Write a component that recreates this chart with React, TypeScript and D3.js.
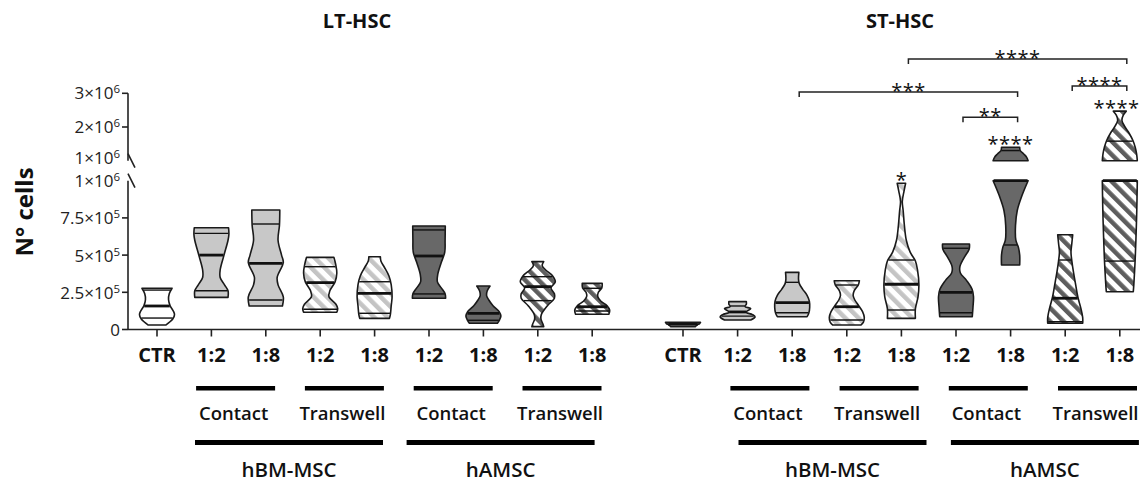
import * as d3 from 'd3'

// categories (same order in both panels)
const groupKeys = ['ctr', 'bmC2', 'bmC8', 'bmT2', 'bmT8', 'amC2', 'amC8', 'amT2', 'amT8']
const groupLabels = ['CTR', '1:2', '1:8', '1:2', '1:8', '1:2', '1:8', '1:2', '1:8']
const groupFill = ['white', 'light', 'light', 'lightHatch', 'lightHatch', 'dark', 'dark', 'darkHatch', 'darkHatch']

const subGroups = [
  { label: 'Contact', from: 1, to: 2 },
  { label: 'Transwell', from: 3, to: 4 },
  { label: 'Contact', from: 5, to: 6 },
  { label: 'Transwell', from: 7, to: 8 },
]
const mainGroups = [
  { label: 'hBM-MSC', from: 1, to: 4 },
  { label: 'hAMSC', from: 5, to: 8 },
]

const yTicksLower = [0, 2.5e5, 5e5, 7.5e5, 1e6]
const yTicksUpper = [1e6, 2e6, 3e6]

// violin outlines: [value, relative width], bottom to top
const ltProfiles = [
  [[0.3e5, 0.5], [0.7e5, 0.9], [1.0e5, 1.0], [1.2e5, 0.95], [1.6e5, 0.75], [2.0e5, 0.66], [2.4e5, 0.7], [2.77e5, 0.86]],
  [[2.16e5, 0.95], [2.6e5, 0.95], [3.0e5, 0.75], [3.5e5, 0.5], [4.0e5, 0.5], [5.0e5, 0.72], [6.0e5, 0.95], [6.4e5, 1.0], [6.84e5, 0.98]],
  [[1.58e5, 0.95], [2.2e5, 1.0], [3.0e5, 0.7], [3.5e5, 0.65], [4.5e5, 1.0], [5.0e5, 0.9], [6.0e5, 0.7], [7.0e5, 0.78], [8.03e5, 0.8]],
  [[1.16e5, 0.95], [1.4e5, 1.0], [1.7e5, 0.9], [2.2e5, 0.5], [2.6e5, 0.55], [3.2e5, 0.85], [3.8e5, 0.95], [4.4e5, 0.88], [4.85e5, 0.78]],
  [[0.75e5, 0.85], [1.0e5, 0.9], [1.6e5, 0.95], [2.2e5, 1.0], [3.0e5, 0.95], [3.6e5, 0.82], [4.2e5, 0.55], [4.6e5, 0.36], [4.89e5, 0.33]],
  [[2.1e5, 0.95], [2.4e5, 0.92], [2.8e5, 0.7], [3.2e5, 0.48], [3.7e5, 0.5], [4.5e5, 0.7], [5.2e5, 0.9], [6.0e5, 0.92], [6.96e5, 0.93]],
  [[0.42e5, 0.8], [0.6e5, 0.9], [0.9e5, 1.0], [1.2e5, 0.9], [1.6e5, 0.55], [2.0e5, 0.3], [2.3e5, 0.18], [2.6e5, 0.22], [2.92e5, 0.38]],
  [[0.19e5, 0.34], [0.4e5, 0.28], [0.7e5, 0.18], [1.0e5, 0.2], [1.6e5, 0.55], [2.1e5, 0.95], [2.4e5, 0.95], [2.8e5, 0.75], [3.2e5, 1.0], [3.6e5, 0.85], [4.0e5, 0.45], [4.3e5, 0.25], [4.56e5, 0.34]],
  [[1.02e5, 0.95], [1.3e5, 1.0], [1.6e5, 0.85], [1.9e5, 0.5], [2.2e5, 0.32], [2.5e5, 0.35], [2.8e5, 0.55], [3.1e5, 0.57]],
]
// [Q1, median, Q3]
const ltQuartiles = [
  [0.77e5, 1.58e5, 2.65e5],
  [2.6e5, 5.0e5, 6.46e5],
  [1.98e5, 4.45e5, 7.09e5],
  [1.36e5, 3.15e5, 4.22e5],
  [1.09e5, 2.43e5, 3.21e5],
  [2.39e5, 4.94e5, 6.69e5],
  [0.62e5, 1.08e5, null],
  [1.94e5, 2.88e5, 3.55e5],
  [1.24e5, 1.53e5, 2.77e5],
]

const stProfiles = [
  [[0.19e5, 0.7], [0.3e5, 0.8], [0.4e5, 0.95], [0.48e5, 1.0]],
  [[0.64e5, 0.75], [0.85e5, 1.0], [1.0e5, 0.85], [1.15e5, 0.5], [1.25e5, 0.55], [1.4e5, 0.75], [1.55e5, 0.42], [1.7e5, 0.5], [1.87e5, 0.5]],
  [[0.86e5, 0.85], [1.1e5, 0.95], [1.5e5, 1.0], [1.9e5, 0.98], [2.3e5, 0.85], [2.7e5, 0.6], [3.1e5, 0.4], [3.4e5, 0.36], [3.84e5, 0.38]],
  [[0.3e5, 0.8], [0.5e5, 0.95], [0.8e5, 1.0], [1.2e5, 0.9], [1.6e5, 0.68], [2.0e5, 0.45], [2.3e5, 0.36], [2.6e5, 0.42], [3.0e5, 0.66], [3.28e5, 0.72]],
  [[0.75e5, 0.8], [1.4e5, 0.8], [2.2e5, 0.95], [3.0e5, 1.0], [4.0e5, 0.92], [4.6e5, 0.8], [5.2e5, 0.5], [6.0e5, 0.28], [7.0e5, 0.17], [8.0e5, 0.1], [8.6e5, 0.05], [9.3e5, 0.15], [9.83e5, 0.24]],
  [[0.86e5, 0.93], [1.5e5, 0.97], [2.2e5, 1.0], [2.7e5, 0.92], [3.3e5, 0.6], [3.8e5, 0.25], [4.2e5, 0.22], [4.8e5, 0.45], [5.4e5, 0.75], [5.75e5, 0.77]],
  [[4.33e5, 0.52], [5.0e5, 0.52], [5.5e5, 0.45], [6.0e5, 0.3], [7.0e5, 0.28], [8.0e5, 0.38], [9.0e5, 0.65], [1.0e6, 1.0], [1.1e6, 0.92], [1.2e6, 0.75], [1.3e6, 0.55], [1.4e6, 0.52]],
  [[0.42e5, 1.0], [0.8e5, 1.0], [1.4e5, 0.9], [2.2e5, 0.72], [3.0e5, 0.6], [3.8e5, 0.48], [4.6e5, 0.38], [5.2e5, 0.33], [5.8e5, 0.38], [6.37e5, 0.43]],
  [[2.54e5, 0.77], [3.0e5, 0.8], [4.5e5, 0.87], [6.0e5, 0.92], [8.0e5, 0.97], [1.0e6, 1.0], [1.2e6, 0.96], [1.4e6, 0.88], [1.6e6, 0.75], [1.8e6, 0.55], [2.0e6, 0.3], [2.2e6, 0.12], [2.35e6, 0.2], [2.47e6, 0.37]],
]
const stQuartiles = [
  [null, 0.35e5, null],
  [0.9e5, 1.18e5, 1.58e5],
  [1.13e5, 1.8e5, 3.17e5],
  [0.64e5, 1.53e5, 2.99e5],
  [1.31e5, 3.04e5, 4.67e5],
  [1.13e5, 2.5e5, 5.46e5],
  [5.68e5, 1.0e6, 1.3e6],
  [0.52e5, 2.1e5, 4.67e5],
  [4.6e5, 1.0e6, 1.58e6],
]

// significance: [from, to, label, level]
const stBrackets: [number, number, string, number][] = [
  [4, 8, '****', 4.02e6],
  [7, 8, '****', 3.22e6],
  [2, 6, '***', 3.04e6],
  [5, 6, '**', 2.29e6],
]
const stStars: [number, string][] = [
  [4, '*'],
  [6, '****'],
  [8, '****'],
]

const FONT = "'Open Sans', 'DejaVu Sans', sans-serif"
const AXIS_X = 128
const W = 1140
const yLow = d3.scaleLinear().domain([0, 1e6]).range([329.5, 180.7])
const yUp = d3.scaleLinear().domain([1e6, 3e6]).range([160.7, 93.3])
const yOf = (v: number) => (v <= 1e6 ? yLow(v) : yUp(v))
const halfW = d3.scaleLinear().domain([0, 1]).range([0, 17.5])

const fillFor: Record<string, string> = {
  white: '#ffffff',
  light: '#c8c8c8',
  dark: '#686868',
  lightHatch: 'url(#hatchLight)',
  darkHatch: 'url(#hatchDark)',
}

const panels = [
  { title: 'LT-HSC', titleX: 357, x: d3.scalePoint().domain(groupKeys).range([157, 592.2]), profiles: ltProfiles, quartiles: ltQuartiles, subShift: -3, mainShift: [-4, -10] },
  { title: 'ST-HSC', titleX: 900, x: d3.scalePoint().domain(groupKeys).range([683, 1119.8]), profiles: stProfiles, quartiles: stQuartiles, subShift: 5, mainShift: [13, 7] },
]

function Violin({ cx, profile, quart, fill }: any) {
  const segments = [
    { lo: 0, hi: 1e6, y: yLow },
    { lo: 1e6, hi: 3e6, y: yUp },
  ]
  const widthAt = d3.scaleLinear().domain(profile.map((p: number[]) => p[0])).range(profile.map((p: number[]) => p[1])).clamp(true)
  return (
    <g>
      {segments.map((s, i) => {
        const pts = profile.filter((p: number[]) => p[0] >= s.lo && p[0] <= s.hi)
        if (pts.length < 2) return null
        const area = d3
          .area<number[]>()
          .y((p) => s.y(p[0]))
          .x0((p) => cx - halfW(p[1]))
          .x1((p) => cx + halfW(p[1]))
          .curve(d3.curveCatmullRom)
        return <path key={i} d={area(pts) || ''} fill={fillFor[fill]} stroke="#1a1a1a" strokeWidth={1.6} strokeLinejoin="round" />
      })}
      {quart.map((q: number | null, i: number) => {
        if (q == null) return null
        const w = halfW(widthAt(q)) - 0.5
        const y = yOf(q)
        return <line key={'q' + i} x1={cx - w} x2={cx + w} y1={y} y2={y} stroke="#111" strokeWidth={i === 1 ? 2.8 : 1.4} />
      })}
    </g>
  )
}

function Sci({ v }: { v: number }) {
  if (v === 0) return <tspan>0</tspan>
  const exp = Math.floor(Math.log10(v))
  const mant = +(v / Math.pow(10, exp)).toFixed(2)
  return (
    <>
      <tspan>{`${mant}×10`}</tspan>
      <tspan dy={-6} fontSize={11.5}>{exp}</tspan>
    </>
  )
}

export default function App() {
  const baseY = yLow(0)
  return (
    <svg width={W} height={483} style={{ position: 'absolute', left: 0, top: 0, background: '#fff' }} fontFamily={FONT}>
      <defs>
        <pattern id="hatchLight" patternUnits="userSpaceOnUse" width={9.5} height={9.5} patternTransform="rotate(-45)">
          <rect width={9.5} height={9.5} fill="#fff" />
          <rect width={4.5} height={9.5} fill="#c4c4c4" />
        </pattern>
        <pattern id="hatchDark" patternUnits="userSpaceOnUse" width={9.5} height={9.5} patternTransform="rotate(-45)">
          <rect width={9.5} height={9.5} fill="#fff" />
          <rect width={4.5} height={9.5} fill="#5e5e5e" />
        </pattern>
      </defs>

      {/* y axis with break */}
      <g stroke="#222" strokeWidth={1.6}>
        <line x1={AXIS_X} x2={AXIS_X} y1={yUp(3e6)} y2={yUp(1e6)} />
        <line x1={AXIS_X} x2={AXIS_X} y1={yLow(1e6)} y2={yLow(0)} />
        <line x1={AXIS_X} x2={AXIS_X + 7} y1={yUp(1e6) - 7} y2={yUp(1e6) + 7} />
        <line x1={AXIS_X} x2={AXIS_X + 7} y1={yLow(1e6) - 7} y2={yLow(1e6) + 7} />
        {yTicksLower.filter((t) => t < 1e6).map((t) => (
          <line key={'tl' + t} x1={AXIS_X - 6} x2={AXIS_X} y1={yLow(t)} y2={yLow(t)} />
        ))}
        {yTicksUpper.filter((t) => t > 1e6).map((t) => (
          <line key={'tu' + t} x1={AXIS_X - 6} x2={AXIS_X} y1={yUp(t)} y2={yUp(t)} />
        ))}
        <line x1={AXIS_X} x2={W} y1={baseY} y2={baseY} />
      </g>
      <g fontSize={17} fill="#222" textAnchor="end">
        {yTicksLower.map((t) => (
          <text key={'ll' + t} x={AXIS_X - 8} y={yLow(t) + 6.5}>
            <Sci v={t} />
          </text>
        ))}
        {yTicksUpper.map((t) => (
          <text key={'lu' + t} x={AXIS_X - 8} y={yUp(t) + (t === 1e6 ? 3.5 : 6)}>
            <Sci v={t} />
          </text>
        ))}
      </g>
      <text transform="translate(33,212) rotate(-90)" textAnchor="middle" fontSize={24} fontWeight="bold" fill="#111">
        N° cells
      </text>

      {panels.map((p, pi) => (
        <g key={pi}>
          <text x={p.titleX} y={28} textAnchor="middle" fontSize={20} fontWeight="bold" fill="#111">
            {p.title}
          </text>
          {groupKeys.map((k, i) => {
            const cx = p.x(k) as number
            return (
              <g key={k}>
                <line x1={cx} x2={cx} y1={baseY} y2={baseY + 7} stroke="#222" strokeWidth={1.6} />
                <Violin cx={cx} profile={p.profiles[i]} quart={p.quartiles[i]} fill={groupFill[i]} />
                <text x={cx} y={362} textAnchor="middle" fontSize={20} fontWeight="bold" fill="#111">
                  {groupLabels[i]}
                </text>
              </g>
            )
          })}
          {subGroups.map((g, gi) => {
            const c = ((p.x(groupKeys[g.from]) as number) + (p.x(groupKeys[g.to]) as number)) / 2 + p.subShift
            return (
              <g key={'s' + gi}>
                <rect x={c - 39.5} y={386} width={79} height={4.5} fill="#000" />
                <text x={c - 2} y={420} textAnchor="middle" fontSize={18.5} fontWeight={600} fill="#111">
                  {g.label}
                </text>
              </g>
            )
          })}
          {mainGroups.map((g, gi) => {
            const c = ((p.x(groupKeys[g.from]) as number) + (p.x(groupKeys[g.to]) as number)) / 2 + p.mainShift[gi]
            return (
              <g key={'m' + gi}>
                <rect x={c - 94} y={440} width={188} height={5} fill="#000" />
                <text x={c} y={477} textAnchor="middle" fontSize={20.5} fontWeight={600} fill="#111">
                  {g.label}
                </text>
              </g>
            )
          })}
        </g>
      ))}

      {/* significance marks, ST-HSC */}
      <g fill="#111" fontSize={20} textAnchor="middle" letterSpacing={0.5}>
        {stBrackets.map(([a, b, label, lvl], i) => {
          const x1 = (panels[1].x(groupKeys[a]) as number) + 7
          const x2 = (panels[1].x(groupKeys[b]) as number) + 7
          const y = yUp(lvl)
          return (
            <g key={'b' + i}>
              <path d={`M${x1},${y + 5}V${y}H${x2}V${y + 5}`} fill="none" stroke="#222" strokeWidth={1.5} />
              <text x={(x1 + x2) / 2} y={y + 6}>
                {label}
              </text>
            </g>
          )
        })}
        {stStars.map(([idx, label], i) => {
          const prof = stProfiles[idx]
          const top = yOf(prof[prof.length - 1][0])
          const half = label.length * 5.6
          const x = Math.min(panels[1].x(groupKeys[idx]) as number, W - 1 - half)
          return (
            <text key={'st' + i} x={x} y={top + 4}>
              {label}
            </text>
          )
        })}
      </g>
    </svg>
  )
}
